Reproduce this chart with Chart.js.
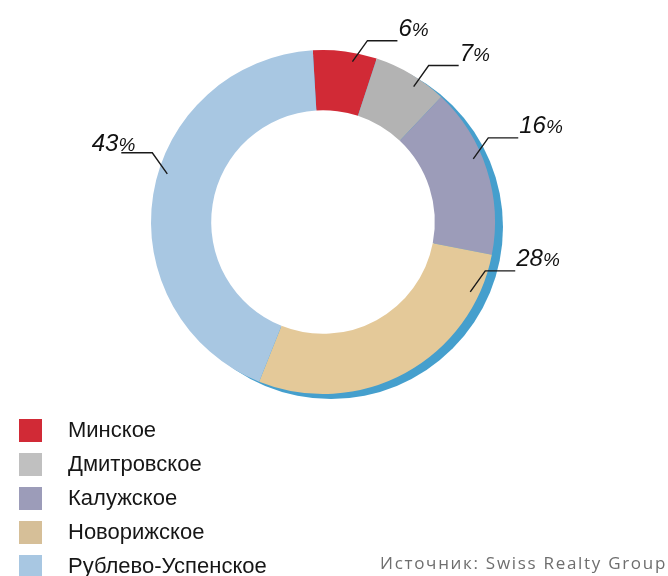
<!DOCTYPE html>
<html><head><meta charset="utf-8">
<script src="https://cdn.jsdelivr.net/npm/chart.js@4"></script>
<style>html,body{margin:0;padding:0;background:#fff}canvas{display:block}</style>
</head><body>
<canvas id="c" width="668" height="576"></canvas>
<script>
const categories = ['Минское','Дмитровское','Калужское','Новорижское','Рублево-Успенское'];
const shares = [6, 7, 16, 28, 43];
const valueLabels = ['6', '7', '16', '28', '43'];
const sourceText = 'Источник: Swiss Realty Group';

const colors = ['#d12a36','#b3b3b3','#9c9cb9','#e4c999','#a8c7e2'];
const legendColors = ['#d12a36','#c0c0c0','#9c9cb9','#d6bf98','#a8c7e2'];
const shadowColor = '#459fcd';
const labelAngleShift = [3, 3, -5, -36, 8];

const shadowPlugin = {
  id: 'shadow',
  beforeDatasetsDraw(chart) {
    const arc = chart.getDatasetMeta(0).data[0];
    if (!arc) return;
    const {x, y, outerRadius, innerRadius} = arc.getProps(['x','y','outerRadius','innerRadius'], true);
    const ctx = chart.ctx;
    ctx.save();
    ctx.fillStyle = shadowColor;
    ctx.beginPath();
    ctx.arc(x + 8, y + 5, outerRadius, 0, Math.PI * 2);
    ctx.fill();
    ctx.fillStyle = '#fff';
    ctx.beginPath();
    ctx.arc(x, y, innerRadius + 1, 0, Math.PI * 2);
    ctx.fill();
    ctx.restore();
  }
};

const labelPlugin = {
  id: 'leaderLabels',
  afterDatasetsDraw(chart) {
    const ctx = chart.ctx;
    const meta = chart.getDatasetMeta(0);
    ctx.save();
    meta.data.forEach((arc, i) => {
      const p = arc.getProps(['x','y','startAngle','endAngle','outerRadius'], true);
      const mid = (p.startAngle + p.endAngle) / 2 + labelAngleShift[i] * Math.PI / 180;
      const r = p.outerRadius - 9;
      const ax = p.x + Math.cos(mid) * r;
      const ay = p.y + Math.sin(mid) * r;
      const right = ax >= p.x;
      const ex = ax + (right ? 15 : -15);
      const ey = ay - 21;
      const hx = ex + (right ? 30 : -31);
      ctx.strokeStyle = '#1a1a1a';
      ctx.lineWidth = 1.4;
      ctx.beginPath();
      ctx.moveTo(ax, ay);
      ctx.lineTo(ex, ey);
      ctx.lineTo(hx, ey);
      ctx.stroke();
      const numFont = 'italic 24px "Liberation Sans", Arial, sans-serif';
      const pctFont = 'italic 19px "Liberation Sans", Arial, sans-serif';
      ctx.font = numFont;
      const wNum = ctx.measureText(valueLabels[i]).width;
      ctx.font = pctFont;
      const wPct = ctx.measureText('%').width;
      const total = wNum + wPct;
      const tx = right ? hx + 1 : hx + 14 - total;
      const ty = right ? ey - 5 : ey - 2;
      ctx.fillStyle = '#111';
      ctx.textBaseline = 'alphabetic';
      ctx.textAlign = 'left';
      ctx.font = numFont;
      ctx.fillText(valueLabels[i], tx, ty);
      ctx.font = pctFont;
      ctx.fillText('%', tx + wNum, ty);
    });
    ctx.restore();
  }
};

const legendPlugin = {
  id: 'customLegend',
  afterDraw(chart) {
    const ctx = chart.ctx;
    ctx.save();
    categories.forEach((name, i) => {
      const top = 419 + i * 34;
      ctx.fillStyle = legendColors[i];
      ctx.fillRect(19, top, 23, 23);
      ctx.fillStyle = '#161616';
      ctx.font = '22px "Liberation Sans", Arial, sans-serif';
      ctx.textBaseline = 'middle';
      ctx.textAlign = 'left';
      ctx.fillText(name, 68, top + 12);
    });
    ctx.fillStyle = '#6e6e6e';
    ctx.font = '17px "Open Sans", "Liberation Sans", Arial, sans-serif';
    ctx.letterSpacing = '1.7px';
    ctx.textAlign = 'right';
    ctx.textBaseline = 'alphabetic';
    ctx.fillText(sourceText, 667, 569);
    ctx.restore();
  }
};

new Chart(document.getElementById('c'), {
  type: 'doughnut',
  data: {
    labels: categories,
    datasets: [{
      data: shares,
      backgroundColor: colors,
      borderWidth: 0,
      hoverOffset: 0,
      offset: 0
    }]
  },
  options: {
    responsive: false,
    devicePixelRatio: 1,
    animation: false,
    cutout: '65%',
    rotation: -3.4,
    layout: { padding: { left: 151, right: 173, top: 50, bottom: 182 } },
    plugins: { legend: { display: false }, tooltip: { enabled: false } }
  },
  plugins: [shadowPlugin, labelPlugin, legendPlugin]
});
</script>
</body></html>
